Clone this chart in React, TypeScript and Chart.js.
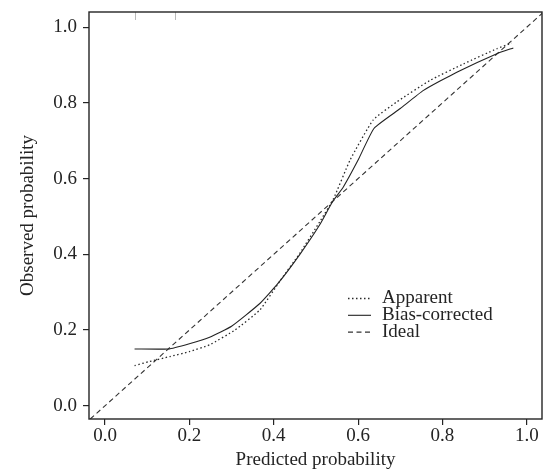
import React, { useEffect, useRef } from "react";
import { Chart, registerables } from "chart.js";

Chart.register(...registerables);

// ---- data ----
const apparentX = [0.070, 0.106, 0.154, 0.200, 0.248, 0.308, 0.367, 0.415, 0.462, 0.509, 0.541, 0.581, 0.636, 0.691, 0.770, 0.850, 0.929, 0.964];
const apparentY = [0.106, 0.117, 0.130, 0.143, 0.161, 0.200, 0.253, 0.330, 0.403, 0.486, 0.545, 0.649, 0.755, 0.802, 0.859, 0.903, 0.943, 0.958];

const biasX = [0.070, 0.150, 0.200, 0.248, 0.300, 0.367, 0.410, 0.462, 0.509, 0.540, 0.565, 0.600, 0.638, 0.700, 0.755, 0.834, 0.929, 0.968];
const biasY = [0.150, 0.150, 0.164, 0.181, 0.210, 0.270, 0.323, 0.400, 0.478, 0.540, 0.578, 0.649, 0.733, 0.785, 0.833, 0.881, 0.930, 0.945];

const idealX = [-0.05, 1.05];
const idealY = [-0.05, 1.05];

const xTicks = [0, 0.2, 0.4, 0.6, 0.8, 1.0];
const yTicks = [0, 0.2, 0.4, 0.6, 0.8, 1.0];
const rugX = [0.07, 0.167];

const seriesLabels = ["Apparent", "Bias-corrected", "Ideal"];
const xTitle = "Predicted probability";
const yTitle = "Observed probability";

const INK = "#242424";
const FONT = "'Liberation Serif', 'Times New Roman', serif";

const toPoints = (xs: number[], ys: number[]) => xs.map((x, i) => ({ x, y: ys[i] }));

const framePlugin = {
  id: "frameLegend",
  afterDatasetsDraw(chart: any) {
    const { ctx, chartArea: ca, scales } = chart;
    ctx.save();
    // rug marks at top
    ctx.strokeStyle = "#b8b8b8";
    ctx.lineWidth = 1;
    ctx.setLineDash([]);
    rugX.forEach((v) => {
      const px = Math.round(scales.x.getPixelForValue(v)) + 0.5;
      ctx.beginPath();
      ctx.moveTo(px, ca.top);
      ctx.lineTo(px, ca.top + 8);
      ctx.stroke();
    });
    // box
    ctx.strokeStyle = INK;
    ctx.lineWidth = 1.4;
    ctx.strokeRect(ca.left, ca.top, ca.right - ca.left, ca.bottom - ca.top);
    // legend
    const lx = ca.left + 259;
    const ly0 = ca.top + 286.5;
    const gap = 16.8;
    ctx.font = `19px ${FONT}`;
    ctx.textBaseline = "middle";
    ctx.textAlign = "left";
    seriesLabels.forEach((lab, i) => {
      const ds = chart.data.datasets.find((d: any) => d.label === lab);
      if (!ds) return;
      const y = ly0 + i * gap;
      ctx.strokeStyle = ds.borderColor;
      ctx.lineWidth = ds.borderWidth;
      ctx.setLineDash(ds.borderDash || []);
      ctx.beginPath();
      ctx.moveTo(lx, y);
      ctx.lineTo(lx + 23, y);
      ctx.stroke();
      ctx.setLineDash([]);
      ctx.fillStyle = INK;
      ctx.fillText(lab, lx + 34, y);
    });
    ctx.restore();
  },
};

export default function App() {
  const ref = useRef<HTMLCanvasElement | null>(null);
  useEffect(() => {
    if (!ref.current) return;
    Chart.defaults.font.family = FONT;
    Chart.defaults.font.size = 19;
    Chart.defaults.color = INK;
    const chart = new Chart(ref.current, {
      type: "line",
      data: {
        datasets: [
          {
            label: seriesLabels[0],
            data: toPoints(apparentX, apparentY),
            borderColor: "#2a2a2a",
            borderWidth: 1.3,
            borderDash: [1.5, 2.5],
            pointRadius: 0,
            tension: 0.15,
            fill: false,
          },
          {
            label: seriesLabels[1],
            data: toPoints(biasX, biasY),
            borderColor: "#222",
            borderWidth: 1.1,
            pointRadius: 0,
            tension: 0.15,
            fill: false,
          },
          {
            label: seriesLabels[2],
            data: toPoints(idealX, idealY),
            borderColor: "#333",
            borderWidth: 1.1,
            borderDash: [5, 3.5],
            pointRadius: 0,
            fill: false,
          },
        ],
      },
      options: {
        animation: false,
        responsive: false,
        devicePixelRatio: 1,
        layout: { padding: { top: 12, right: 2, left: 0, bottom: 0 } },
        plugins: { legend: { display: false }, tooltip: { enabled: false } },
        scales: {
          x: {
            type: "linear",
            min: -0.038,
            max: 1.036,
            afterFit: (s: any) => { s.height = 52; s.paddingLeft = 0; s.paddingRight = 0; },
            afterBuildTicks: (s: any) => { s.ticks = xTicks.map((v) => ({ value: v })); },
            ticks: { padding: 0, callback: (v: any) => Number(v).toFixed(1), color: INK, maxRotation: 0 },
            grid: { drawOnChartArea: false, drawTicks: true, tickLength: 6, color: INK, lineWidth: 1.2 },
            border: { display: false },
            title: { display: true, text: xTitle, color: INK, font: { size: 19, lineHeight: 1 }, padding: { top: 0, bottom: 1 } },
          },
          y: {
            type: "linear",
            min: -0.035,
            max: 1.04,
            afterFit: (s: any) => { s.width = 89; s.paddingTop = 0; s.paddingBottom = 0; },
            afterBuildTicks: (s: any) => { s.ticks = yTicks.map((v) => ({ value: v })); },
            ticks: { padding: 6, callback: (v: any) => Number(v).toFixed(1), color: INK },
            grid: { drawOnChartArea: false, drawTicks: true, tickLength: 6, color: INK, lineWidth: 1.2 },
            border: { display: false },
            title: { display: true, text: yTitle, color: INK, font: { size: 19, lineHeight: 1.2 }, padding: { top: 16.5, bottom: 0 } },
          },
        },
      },
      plugins: [framePlugin],
    } as any);
    return () => chart.destroy();
  }, []);
  return (
    <div style={{ position: "absolute", left: 0, top: 0, width: 544, height: 471, background: "#fff" }}>
      <canvas ref={ref} width={544} height={471} style={{ display: "block" }} />
    </div>
  );
}
